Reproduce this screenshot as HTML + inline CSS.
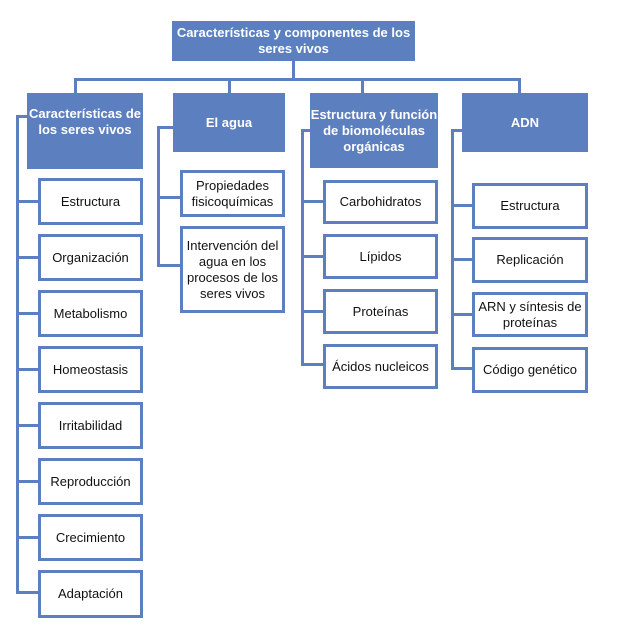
<!DOCTYPE html>
<html><head><meta charset="utf-8"><style>
body{margin:0;width:626px;height:631px;background:#fff;position:relative;overflow:hidden;font-family:"Liberation Sans",Arial,sans-serif}
.b{position:absolute;box-sizing:border-box;display:flex;align-items:center;justify-content:center;text-align:center;font-size:13px;line-height:16px;color:#111}
.h{background:#5b7fbf;color:#fff;font-weight:bold;font-size:13px}
.c{border:3.5px solid #5b7fbf;background:#fff}
.l{position:absolute;background:#5b7fbf}
</style></head><body>
<!-- connectors -->
<div class="l" style="left:292px;top:60px;width:3px;height:21px"></div>
<div class="l" style="left:74px;top:78px;width:447px;height:3px"></div>
<div class="l" style="left:74px;top:78px;width:3px;height:16px"></div>
<div class="l" style="left:228px;top:78px;width:3px;height:16px"></div>
<div class="l" style="left:361px;top:78px;width:3px;height:16px"></div>
<div class="l" style="left:518px;top:78px;width:3px;height:16px"></div>

<div class="l" style="left:16px;top:115px;width:12px;height:3px"></div>
<div class="l" style="left:16px;top:115px;width:3px;height:478px"></div>
<div class="l" style="left:16px;top:200px;width:23px;height:3px"></div>
<div class="l" style="left:16px;top:256px;width:23px;height:3px"></div>
<div class="l" style="left:16px;top:312px;width:23px;height:3px"></div>
<div class="l" style="left:16px;top:368px;width:23px;height:3px"></div>
<div class="l" style="left:16px;top:424px;width:23px;height:3px"></div>
<div class="l" style="left:16px;top:480px;width:23px;height:3px"></div>
<div class="l" style="left:16px;top:536px;width:23px;height:3px"></div>
<div class="l" style="left:16px;top:591px;width:23px;height:3px"></div>

<div class="l" style="left:157px;top:126px;width:17px;height:3px"></div>
<div class="l" style="left:157px;top:126px;width:3px;height:141px"></div>
<div class="l" style="left:157px;top:196px;width:24px;height:3px"></div>
<div class="l" style="left:157px;top:264px;width:24px;height:3px"></div>

<div class="l" style="left:301px;top:129px;width:10px;height:3px"></div>
<div class="l" style="left:301px;top:129px;width:3px;height:237px"></div>
<div class="l" style="left:301px;top:200px;width:23px;height:3px"></div>
<div class="l" style="left:301px;top:255px;width:23px;height:3px"></div>
<div class="l" style="left:301px;top:310px;width:23px;height:3px"></div>
<div class="l" style="left:301px;top:363px;width:23px;height:3px"></div>

<div class="l" style="left:451px;top:129px;width:12px;height:3px"></div>
<div class="l" style="left:451px;top:129px;width:3px;height:241px"></div>
<div class="l" style="left:451px;top:204px;width:22px;height:3px"></div>
<div class="l" style="left:451px;top:258px;width:22px;height:3px"></div>
<div class="l" style="left:451px;top:313px;width:22px;height:3px"></div>
<div class="l" style="left:451px;top:367px;width:22px;height:3px"></div>

<!-- headers -->
<div class="b h" style="left:172px;top:21px;width:243px;height:40px">Características y componentes de los seres vivos</div>
<div class="b h" style="left:27px;top:93px;width:116px;height:76px;padding-bottom:18px">Características de los seres vivos</div>
<div class="b h" style="left:173px;top:93px;width:112px;height:59px">El agua</div>
<div class="b h" style="left:310px;top:93px;width:128px;height:75px">Estructura y función de biomoléculas orgánicas</div>
<div class="b h" style="left:462px;top:93px;width:126px;height:59px">ADN</div>

<!-- col1 -->
<div class="b c" style="left:38px;top:178px;width:105px;height:47px">Estructura</div>
<div class="b c" style="left:38px;top:234px;width:105px;height:47px">Organización</div>
<div class="b c" style="left:38px;top:290px;width:105px;height:47px">Metabolismo</div>
<div class="b c" style="left:38px;top:346px;width:105px;height:47px">Homeostasis</div>
<div class="b c" style="left:38px;top:402px;width:105px;height:47px">Irritabilidad</div>
<div class="b c" style="left:38px;top:458px;width:105px;height:47px">Reproducción</div>
<div class="b c" style="left:38px;top:514px;width:105px;height:47px">Crecimiento</div>
<div class="b c" style="left:38px;top:570px;width:105px;height:48px">Adaptación</div>
<!-- col2 -->
<div class="b c" style="left:180px;top:170px;width:105px;height:47px">Propiedades fisicoquímicas</div>
<div class="b c" style="left:180px;top:226px;width:105px;height:87px">Intervención del agua en los procesos de los seres vivos</div>
<!-- col3 -->
<div class="b c" style="left:323px;top:180px;width:115px;height:44px">Carbohidratos</div>
<div class="b c" style="left:323px;top:234px;width:115px;height:45px">Lípidos</div>
<div class="b c" style="left:323px;top:289px;width:115px;height:45px">Proteínas</div>
<div class="b c" style="left:323px;top:344px;width:115px;height:45px">Ácidos nucleicos</div>
<!-- col4 -->
<div class="b c" style="left:472px;top:183px;width:116px;height:46px">Estructura</div>
<div class="b c" style="left:472px;top:237px;width:116px;height:46px">Replicación</div>
<div class="b c" style="left:472px;top:292px;width:116px;height:45px">ARN y síntesis de proteínas</div>
<div class="b c" style="left:472px;top:347px;width:116px;height:46px">Código genético</div>
</body></html>
